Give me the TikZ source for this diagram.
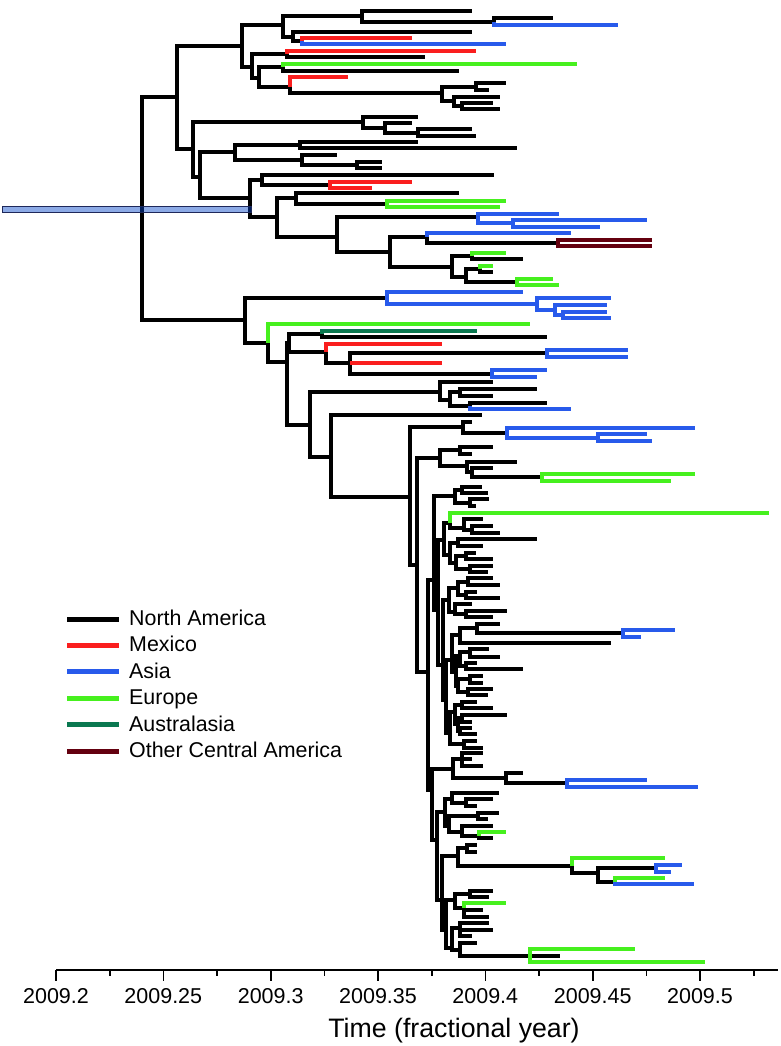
\documentclass[tikz,border=0pt]{standalone}
\usepackage{fontspec}
\setmainfont{Liberation Sans}
\definecolor{namer}{RGB}{0,0,0}
\definecolor{mexico}{RGB}{250,30,30}
\definecolor{asia}{RGB}{40,90,235}
\definecolor{europe}{RGB}{70,240,30}
\definecolor{austral}{RGB}{10,120,80}
\definecolor{ocamer}{RGB}{100,0,15}
\definecolor{rootbar}{RGB}{0,66,200}
\definecolor{rootedge}{RGB}{30,40,90}
\begin{document}
\begin{tikzpicture}[x=1pt, y=-1pt,
    br/.style={line width=4.8pt},
    ticklab/.style={font=\fontsize{21.5}{24}\selectfont, anchor=base, inner sep=0pt},
    lgtext/.style={font=\fontsize{21.4}{24}\selectfont, anchor=base west, inner sep=0pt}]
    % 1. Khung hình
    \useasboundingbox (0,0) rectangle (780,1046);

    % 2. Cây phía trên (nhánh đen)
    \foreach \a/\b/\c/\d in {142/208/177/97, 177/97/242/46, 242/46/283/25, 283/25/362/16,
        362/16/472/11, 362/16/494/22, 494/22/553/18, 283/25/293/37, 293/37/472/32, 293/37/302/41,
        242/46/252/67, 252/67/287/54, 287/54/425/57, 252/67/259/78, 259/78/283/67, 283/67/459/71,
        259/78/290/87, 290/87/442/93, 442/93/476/87, 476/87/506/83, 476/87/489/90, 442/93/454/101,
        454/101/500/97, 454/101/462/106, 462/106/493/103, 462/106/500/109,
        177/97/193/149, 193/149/363/122, 363/122/418/117, 363/122/385/128, 385/128/412/123,
        385/128/418/133, 418/133/472/129, 418/133/476/136, 193/149/200/177, 200/177/235/152,
        235/152/300/145, 300/145/418/142, 300/145/517/148, 235/152/302/160, 302/160/337/155,
        302/160/357/165, 357/165/382/162, 357/165/382/168, 200/177/250/198, 250/198/262/180,
        262/180/494/175, 262/180/330/185, 250/198/277/217, 277/217/296/198, 296/198/459/193,
        296/198/387/204, 277/217/337/237, 337/237/478/217, 337/237/390/252, 390/252/427/237,
        427/237/558/243, 390/252/452/267, 452/267/472/256, 472/256/523/259, 452/267/466/277,
        466/277/480/269, 480/269/493/272, 466/277/517/282}
        \draw[br, namer] (\a,\b) |- (\c,\d);

    % 3. Cây phía dưới (nhánh đen)
    \foreach \a/\b/\c/\d in {142/208/245/320, 245/320/387/298, 245/320/268/343, 268/343/287/362,
        287/362/289/343, 289/343/322/334, 322/334/547/337, 289/343/326/352, 326/352/350/363,
        350/363/547/353, 350/363/492/374, 287/362/310/425, 310/425/440/392, 440/392/493/382,
        440/392/450/400, 450/400/460/392, 460/392/537/389, 460/392/493/396, 450/400/470/406,
        470/406/547/403, 310/425/331/457, 331/457/482/415, 331/457/410/497, 410/497/463/427,
        463/427/472/422, 463/427/507/433, 410/497/417/565, 417/565/440/458, 440/458/460/450,
        460/450/493/447, 460/450/472/454, 440/458/467/466, 467/466/517/462, 467/466/472/472,
        472/472/493/468, 472/472/542/477, 417/565/428/672,
        428/672/434/580, 428/672/432/790, 434/580/455/496, 434/580/438/610, 438/610/444/540,
        438/610/443/665, 444/540/450/523, 444/540/450/555, 443/665/449/600, 443/665/446/700,
        446/700/452/660, 446/700/450/733,
        455/496/462/490, 462/490/482/487, 462/490/488/493, 455/496/470/503, 470/503/489/499,
        470/503/476/506,
        450/523/464/528, 464/528/483/519, 464/528/472/530, 472/530/493/526, 472/530/500/533,
        450/555/458/543, 458/543/537/539, 458/543/483/546, 450/555/456/563, 456/563/466/556,
        466/556/476/553, 466/556/493/559, 456/563/470/569, 470/569/493/566, 470/569/488/572,
        449/600/458/588, 458/588/468/582, 468/582/493/578, 468/582/500/585, 458/588/466/595,
        466/595/477/592, 466/595/500/598, 449/600/455/612, 455/612/472/604, 455/612/466/614,
        466/614/507/611, 466/614/493/617,
        452/660/460/635, 460/635/477/628, 477/628/500/624, 477/628/623/633, 460/635/611/643,
        452/660/456/672, 456/672/460/656, 460/656/470/652, 470/652/489/649, 470/652/500/657,
        460/656/466/666, 466/666/477/663, 466/666/523/669, 456/672/458/686, 458/686/470/679,
        470/679/483/676, 470/679/483/683, 458/686/468/692, 468/692/493/689, 468/692/488/695,
        450/733/455/712, 455/712/462/705, 462/705/477/702, 462/705/493/708, 455/712/458/724,
        458/724/462/718, 462/718/507/715, 462/718/472/722, 458/724/460/731, 460/731/472/728,
        460/731/477/734, 450/733/464/744, 464/744/477/741, 464/744/483/748,
        432/790/453/769, 432/790/437/840, 453/769/462/759, 462/759/483/753, 462/759/472/759,
        462/759/483/766, 453/769/506/778, 506/778/523/773, 506/778/567/783,
        437/840/445/812, 437/840/442/900, 445/812/452/799, 452/799/499/793, 452/799/466/803,
        466/803/493/799, 466/803/477/806, 445/812/449/826, 449/826/478/816, 478/816/499/813,
        478/816/488/819, 449/826/462/832, 462/832/493/826, 462/832/479/836, 479/836/493/838,
        442/900/458/856, 442/900/446/930, 458/856/467/848, 467/848/477/845, 467/848/477/852,
        458/856/572/866, 572/866/598/873, 598/873/656/868, 598/873/615/882,
        446/930/455/900, 446/930/452/948, 455/900/470/894, 470/894/493/891, 470/894/489/897,
        455/900/464/908, 464/908/483/910, 464/908/489/917, 452/948/460/928, 460/928/489/923,
        460/928/493/930, 460/928/472/936, 452/948/460/950, 460/950/477/943, 460/950/530/956,
        530/956/560/956}
        \draw[br, namer] (\a,\b) |- (\c,\d);

    % 4. Nhánh màu theo vùng
    \foreach \a/\b/\c/\d in {302/41/412/38, 287/54/476/51, 290/87/348/77, 330/185/412/182,
        330/185/372/188, 326/352/442/344, 350/363/442/363}
        \draw[br, mexico] (\a,\b) |- (\c,\d);
    \foreach \a/\b/\c/\d in {494/22/618/25, 302/41/506/44, 478/217/559/214, 478/217/513/223,
        513/223/647/220, 513/223/600/227, 427/237/571/233, 387/298/523/292, 387/298/537/304,
        537/304/611/298, 537/304/555/310, 555/310/607/305, 555/310/563/315, 563/315/607/312,
        563/315/611/318, 547/353/628/350, 547/353/628/357, 492/374/547/370, 492/374/537/377,
        470/406/571/409, 507/433/695/428, 507/433/598/438, 598/438/647/434, 598/438/652/441,
        623/633/675/630, 623/633/641/637, 567/783/647/780, 567/783/698/787, 656/868/682/865,
        656/868/671/872, 615/882/694/884}
        \draw[br, asia] (\a,\b) |- (\c,\d);
    \foreach \a/\b/\c/\d in {283/67/577/64, 387/204/506/201, 387/204/500/207, 472/256/506/253,
        480/269/493/266, 517/282/553/279, 517/282/559/285, 268/343/530/324, 542/477/695/474,
        542/477/671/481, 450/523/769/513, 479/836/506/832, 572/866/665/858, 615/882/665/878,
        464/908/506/903, 530/956/635/949, 530/956/705/962}
        \draw[br, europe] (\a,\b) |- (\c,\d);
    \draw[br, austral] (322,334) |- (477,331);
    \draw[br, ocamer] (558,243) |- (652,240);
    \draw[br, ocamer] (558,243) |- (652,246);

    % 5. Khoảng tin cậy của gốc
    \draw[rootedge, line width=0.8pt, fill=rootbar, fill opacity=0.45] (2.5,206) rectangle (251,212.5);

    % 6. Trục thời gian
    \draw[line width=1.6pt] (56,970) -- (778,970);
    \foreach \v/\lab [count=\i] in {56/2009.2, 163.3/2009.25, 270.7/2009.3, 378/2009.35,
        485.3/2009.4, 592.7/2009.45, 700/2009.5} {
        \draw[line width=1.6pt] (\v,970) -- (\v,981);
        \node[ticklab] (tk\i) at (\v,1003) {\lab};
    }
    \foreach \v in {109.7, 217, 324.3, 431.7, 539, 646.3, 753.7}
        \draw[line width=1.6pt] (\v,970) -- (\v,976);
    \node[font=\fontsize{26.7}{30}\selectfont, anchor=base, inner sep=0pt] (ttl) at (454,1037) {Time (fractional year)};

    % 7. Chú thích
    \foreach \col/\lab [count=\i] in {namer/North America, mexico/Mexico, asia/Asia,
        europe/Europe, austral/Australasia, ocamer/Other Central America} {
        \draw[\col, line width=5pt] (67,{619+26.4*(\i-1)}) -- (119,{619+26.4*(\i-1)});
        \node[lgtext] (lg\i) at (129,{625.5+26.4*(\i-1)}) {\lab};
    }
\end{tikzpicture}
\end{document}
